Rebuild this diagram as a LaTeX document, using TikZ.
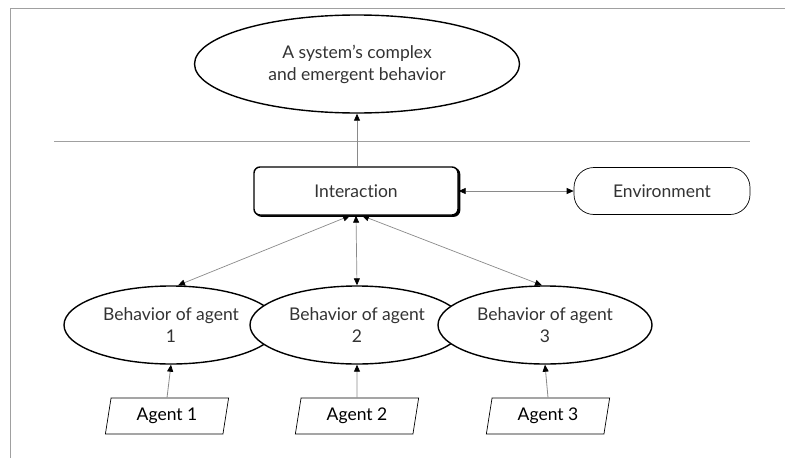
\documentclass[tikz,border=0pt]{standalone}
\usepackage{fontspec}
\setmainfont{Lato}[Ligatures={NoCommon}]
\usetikzlibrary{shapes.geometric,arrows.meta,calc}
\definecolor{txt}{HTML}{333333}
\definecolor{rule}{HTML}{A0A0A0}
\definecolor{link}{HTML}{8A8A8A}
\tikzset{
  lbl/.style={font=\fontsize{17.5}{22}\selectfont},
  oval/.style={ellipse,draw=black,line width=1.4pt,fill=white,text=txt,
    align=center,inner sep=0pt,lbl},
  interbox/.style={rectangle,rounded corners=6pt,draw=black,line width=1.4pt,
    fill=white,text=txt,minimum width=204pt,minimum height=48pt,lbl},
  envbox/.style={rectangle,rounded corners=20pt,draw=black,line width=0.7pt,
    fill=white,text=txt,minimum width=176pt,minimum height=47pt,lbl},
  agentbox/.style={trapezium,trapezium left angle=79,trapezium right angle=101,
    trapezium stretches=true,draw=black,line width=0.7pt,fill=white,text=black,
    minimum width=124pt,minimum height=36pt,inner sep=0pt,lbl},
  conn/.style={draw=link,line width=0.7pt,
    {Triangle[length=7pt,width=6pt,color=black]}-{Triangle[length=7pt,width=6pt,color=black]}},
  oneway/.style={draw=link,line width=0.8pt,-{Triangle[length=7pt,width=6pt,color=black]}},
}
\begin{document}
\begin{tikzpicture}[x=1pt,y=-1pt]
\useasboundingbox (0,0) rectangle (785,458);
% partial frame
\draw[rule,line width=1pt] (10,458) -- (10,8) -- (785,8);
% separator rule
\draw[rule,line width=1pt] (54,141) -- (750,141);

% top level
\node[oval,minimum width=325pt,minimum height=98pt] (sys) at (357,64)
  {A system’s complex\\and emergent behavior};

% interaction box with a thin drop edge
\node[interbox,fill=black,draw=black] at (357.6,192.2) {};
\node[interbox] (inter) at (356,191) {Interaction};
\node[envbox] (env) at (662,191) {Environment};

% agent behaviours (drawn left to right so each overlaps the previous)
\node[oval,minimum width=214pt,minimum height=78pt] (b1) at (171,325)
  {Behavior of agent\\1};
\node[oval,minimum width=214pt,minimum height=78pt] (b2) at (357,325)
  {Behavior of agent\\2};
\node[oval,minimum width=214pt,minimum height=78pt] (b3) at (545,325)
  {Behavior of agent\\3};

% agents
\node[agentbox] (a1) at (167,416) {Agent 1};
\node[agentbox] (a2) at (357,416) {Agent 2};
\node[agentbox] (a3) at (548,416) {Agent 3};

% connectors
\coordinate (i1) at ($(inter.south)+(-6,0)$);
\coordinate (i3) at ($(inter.south)+(6,0)$);
\coordinate (t1) at ($(b1.north)+(7,0)$);
\coordinate (t3) at ($(b3.north)+(-3,0)$);
\draw[oneway] (inter.north -| sys.south) -- (sys.south);
\draw[conn] (inter.east) -- (env.west);
\draw[conn] (i1) -- (t1);
\draw[conn] (inter.south) -- (b2.north);
\draw[conn] (i3) -- (t3);
\draw[oneway] (a1.north) -- (b1.south);
\draw[oneway] (a2.north) -- (b2.south);
\draw[oneway] (a3.north) -- (b3.south);
\end{tikzpicture}
\end{document}
